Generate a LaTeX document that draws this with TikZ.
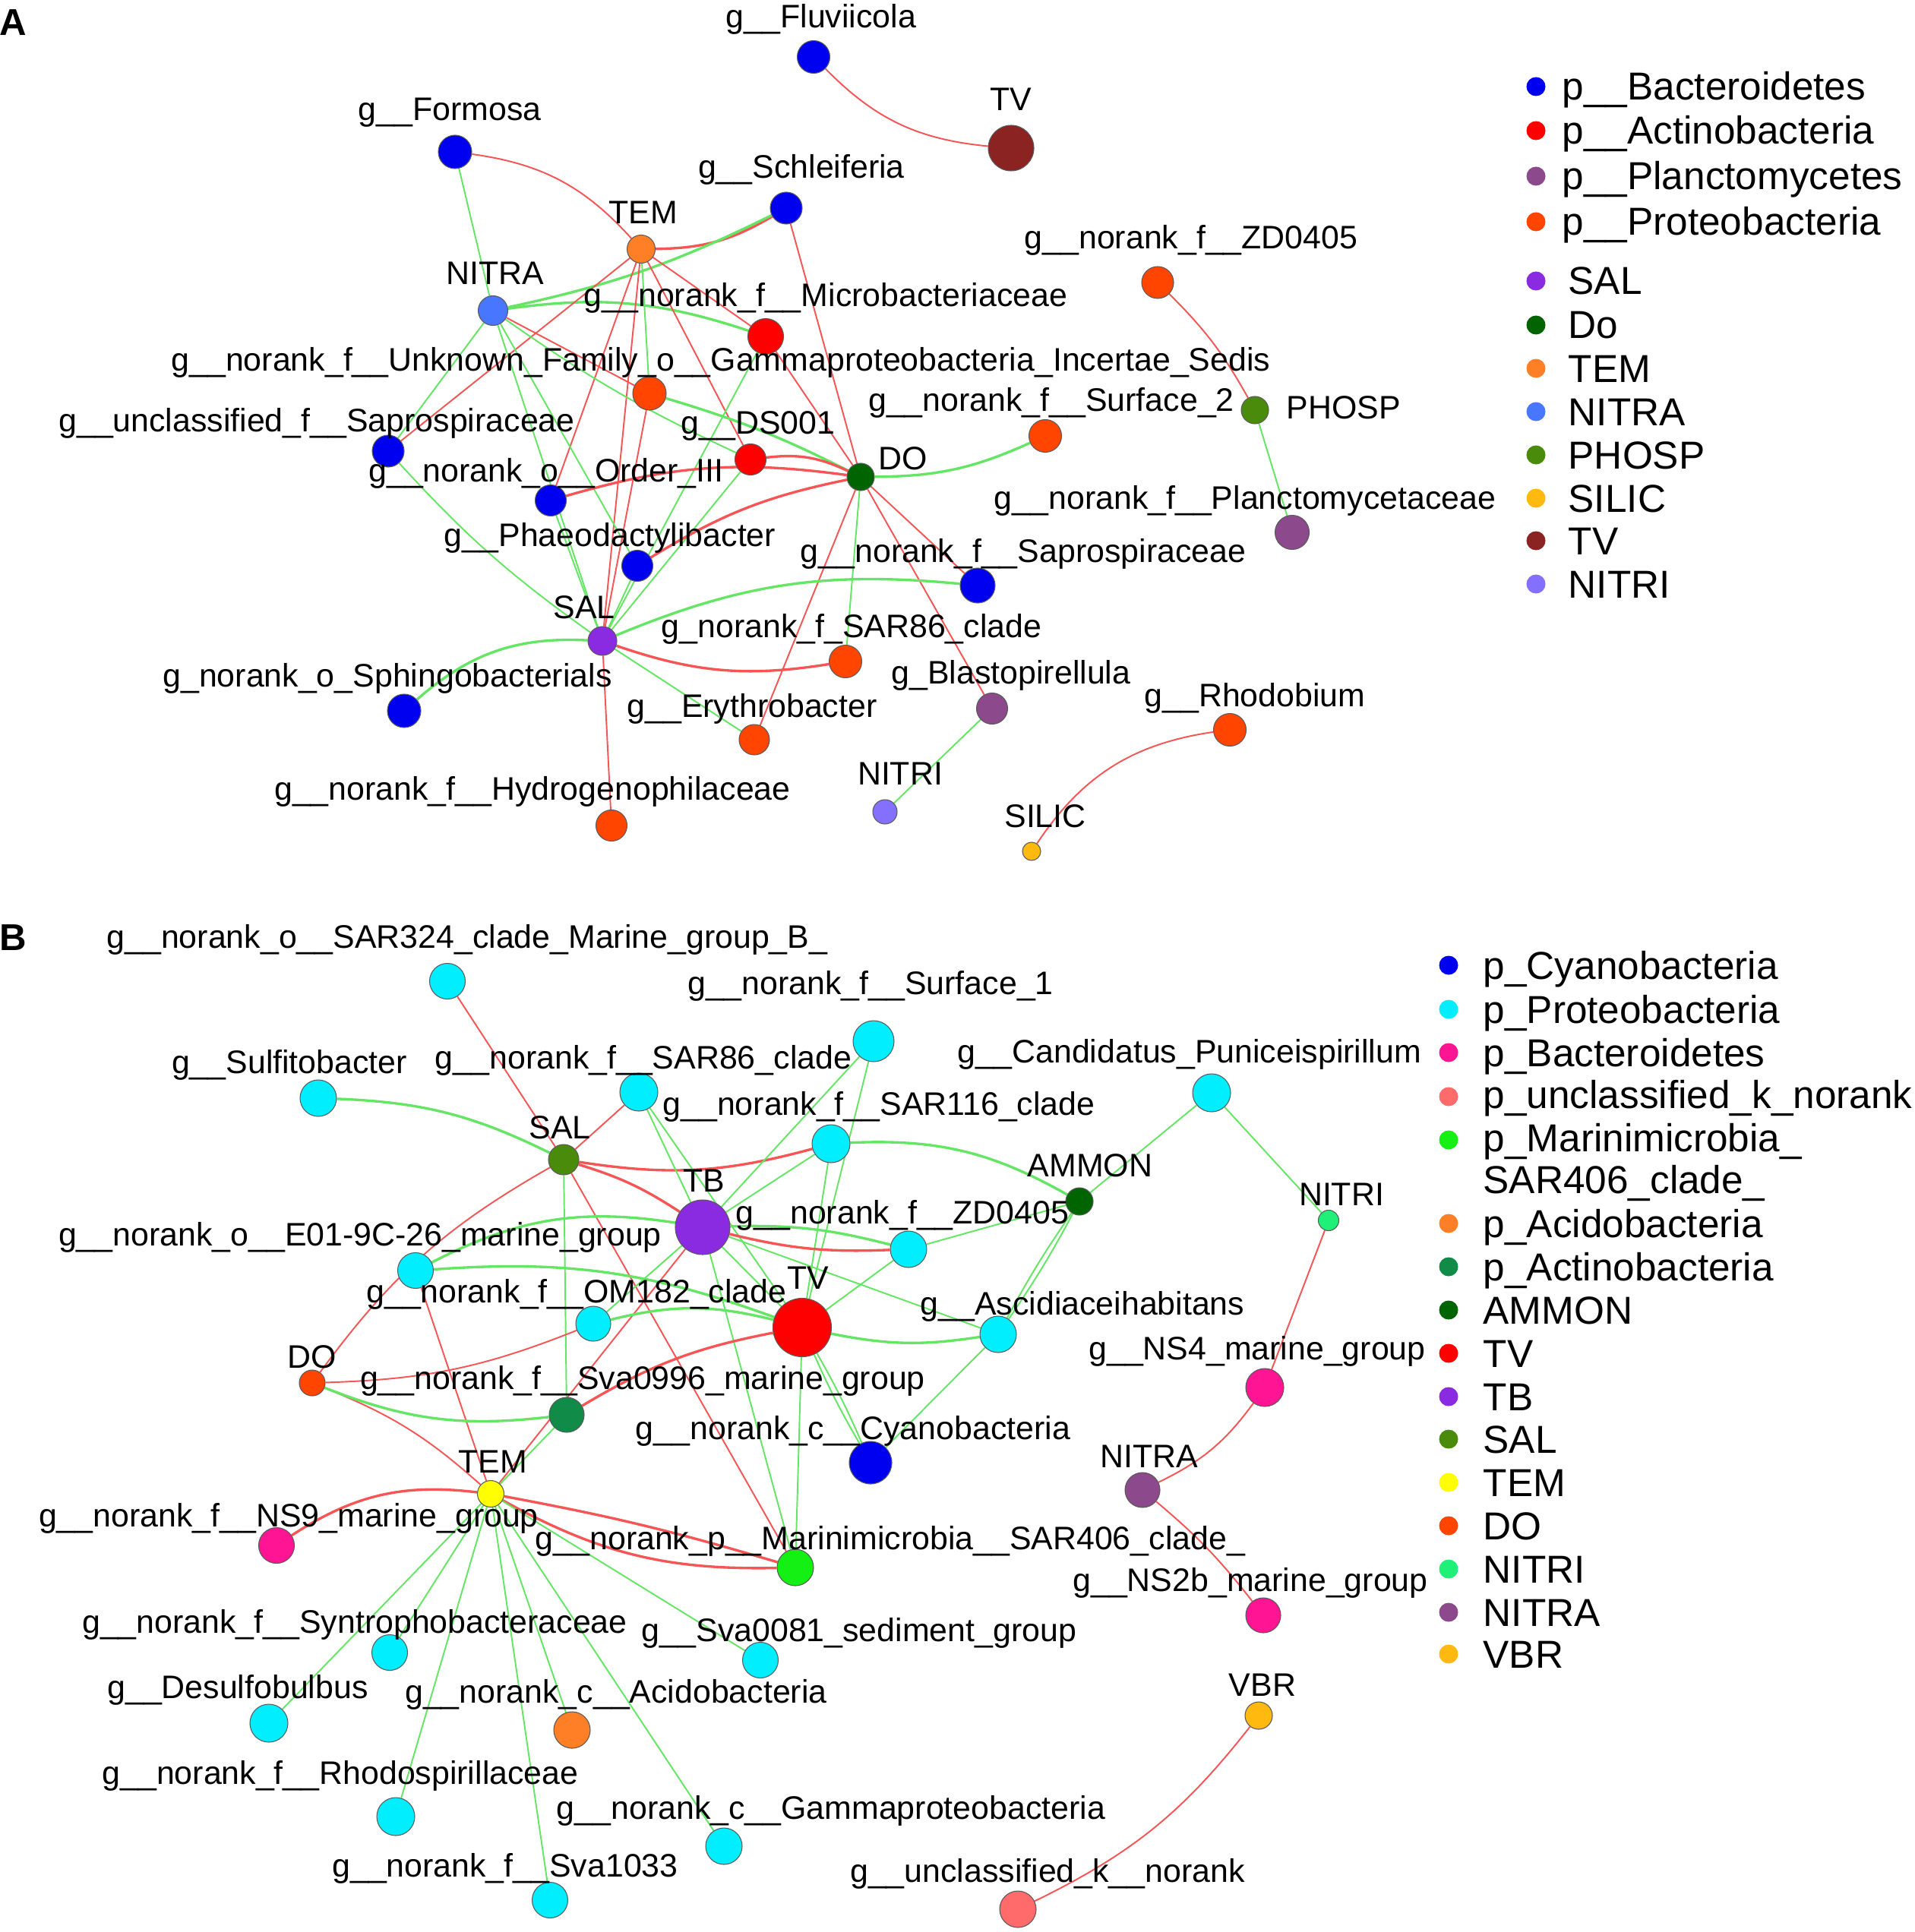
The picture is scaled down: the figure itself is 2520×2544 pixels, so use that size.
\documentclass[tikz,border=0pt]{standalone}
\usepackage{fontspec}
\setmainfont{Liberation Sans}
\usetikzlibrary{backgrounds}

% taxon colours, panel A
\definecolor{bactA}{RGB}{0,0,240}
\definecolor{actinoA}{RGB}{255,0,0}
\definecolor{plancA}{RGB}{140,74,140}
\definecolor{proteoA}{RGB}{255,69,0}
\definecolor{salA}{RGB}{138,43,226}
\definecolor{doA}{RGB}{0,100,0}
\definecolor{temA}{RGB}{255,127,39}
\definecolor{nitraA}{RGB}{72,118,255}
\definecolor{phospA}{RGB}{75,139,11}
\definecolor{silicA}{RGB}{255,185,15}
\definecolor{tvA}{RGB}{139,35,35}
\definecolor{nitriA}{RGB}{132,112,255}
% taxon colours, panel B
\definecolor{cyanoB}{RGB}{0,0,240}
\definecolor{proteoB}{RGB}{0,238,255}
\definecolor{bactB}{RGB}{255,20,147}
\definecolor{unclB}{RGB}{255,106,106}
\definecolor{mariB}{RGB}{20,240,20}
\definecolor{acidoB}{RGB}{255,127,39}
\definecolor{actinoB}{RGB}{16,140,72}
\definecolor{ammonB}{RGB}{0,100,0}
\definecolor{tvB}{RGB}{255,0,0}
\definecolor{tbB}{RGB}{138,43,226}
\definecolor{salB}{RGB}{75,139,11}
\definecolor{temB}{RGB}{255,255,0}
\definecolor{doB}{RGB}{255,69,0}
\definecolor{nitriB}{RGB}{30,240,120}
\definecolor{nitraB}{RGB}{140,74,140}
\definecolor{vbrB}{RGB}{255,185,15}
% correlation links
\definecolor{linkred}{RGB}{245,85,85}
\definecolor{linkgreen}{RGB}{100,230,100}

\tikzset{
  taxon/.style={circle, draw=black!65, line width=0.3pt, inner sep=0pt, minimum size=#1},
  lbl/.style={inner sep=0pt, yshift=-0.5mm, font=\fontsize{12.2}{14}\selectfont, text height=3.1mm, text depth=0.9mm},
  keydot/.style={circle, inner sep=0pt, minimum size=2.5mm},
  keytext/.style={anchor=west, inner sep=0pt, yshift=-0.5mm, font=\fontsize{14.6}{17}\selectfont, text height=3.7mm, text depth=1.1mm},
  redlink/.style={draw=linkred, line width=0.55pt},
  greenlink/.style={draw=linkgreen, line width=0.55pt},
  heavy/.style={line width=0.95pt},
  paneltag/.style={inner sep=0pt, font=\bfseries\fontsize{14}{16}\selectfont}
}

\begin{document}
\begin{tikzpicture}[x=0.1mm, y=-0.1mm]
\useasboundingbox (0,0) rectangle (2520,2544);

% ---------------- panel A ----------------
\node[paneltag] (tagA) at (17,30) {A};

\node[taxon=4.3mm, fill=bactA] (aFluv) at (1071,75) {};
\node[taxon=6mm, fill=tvA] (aTV) at (1331,195) {};
\node[taxon=4.4mm, fill=bactA] (aForm) at (599,200) {};
\node[taxon=4.2mm, fill=bactA] (aSchl) at (1035,274) {};
\node[taxon=3.7mm, fill=temA] (aTEM) at (844,328) {};
\node[taxon=3.9mm, fill=nitraA] (aNITRA) at (649,409) {};
\node[taxon=4.7mm, fill=actinoA] (aMicro) at (1008,443) {};
\node[taxon=4.4mm, fill=proteoA] (aUnkn) at (855,518) {};
\node[taxon=4.2mm, fill=bactA] (aUSap) at (511,594) {};
\node[taxon=4.1mm, fill=bactA] (aOrd) at (725,659) {};
\node[taxon=4.1mm, fill=actinoA] (aDS) at (988,605) {};
\node[taxon=3.6mm, fill=doA] (aDO) at (1133,628) {};
\node[taxon=4.3mm, fill=proteoA] (aSurf) at (1376,574) {};
\node[taxon=4.2mm, fill=proteoA] (aZD) at (1524,372) {};
\node[taxon=3.6mm, fill=phospA] (aPHOSP) at (1652,540) {};
\node[taxon=4.5mm, fill=plancA] (aPlanc) at (1701,701) {};
\node[taxon=4.1mm, fill=bactA] (aPhaeo) at (839,745) {};
\node[taxon=4.6mm, fill=bactA] (aSapro) at (1287,771) {};
\node[taxon=3.8mm, fill=salA] (aSAL) at (793,844) {};
\node[taxon=4.3mm, fill=proteoA] (aSAR86) at (1113,871) {};
\node[taxon=4.4mm, fill=bactA] (aSphi) at (532,936) {};
\node[taxon=4mm, fill=proteoA] (aEryth) at (993,974) {};
\node[taxon=4.1mm, fill=plancA] (aBlast) at (1306,933) {};
\node[taxon=4.3mm, fill=proteoA] (aRhodo) at (1619,961) {};
\node[taxon=4.1mm, fill=proteoA] (aHydro) at (805,1087) {};
\node[taxon=3.2mm, fill=nitriA] (aNITRI) at (1165,1069) {};
\node[taxon=2.4mm, fill=silicA] (aSILIC) at (1358,1121) {};

\node[lbl] (aFluv-l) at (1081,21) {g\_\_Fluviicola};
\node[lbl] (aTV-l) at (1331,130) {TV};
\node[lbl] (aForm-l) at (592,143) {g\_\_Formosa};
\node[lbl] (aSchl-l) at (1055,219) {g\_\_Schleiferia};
\node[lbl] (aTEM-l) at (847,279) {TEM};
\node[lbl] (aZD-l) at (1568,312) {g\_\_norank\_f\_\_ZD0405};
\node[lbl] (aNITRA-l) at (652,359) {NITRA};
\node[lbl] (aMicro-l) at (1087,388) {g\_\_norank\_f\_\_Microbacteriaceae};
\node[lbl] (aUnkn-l) at (949,472) {g\_\_norank\_f\_\_Unknown\_Family\_o\_\_Gammaproteobacteria\_Incertae\_Sedis};
\node[lbl] (aSurf-l) at (1384,526) {g\_\_norank\_f\_\_Surface\_2};
\node[lbl] (aPHOSP-l) at (1769,535) {PHOSP};
\node[lbl] (aUSap-l) at (417,552) {g\_\_unclassified\_f\_\_Saprospiraceae};
\node[lbl] (aDS-l) at (998,555) {g\_\_DS001};
\node[lbl] (aDO-l) at (1189,602) {DO};
\node[lbl] (aOrd-l) at (719,618) {g\_\_norank\_o\_\_Order\_III};
\node[lbl] (aPlanc-l) at (1639,654) {g\_\_norank\_f\_\_Planctomycetaceae};
\node[lbl] (aPhaeo-l) at (803,703) {g\_\_Phaeodactylibacter};
\node[lbl] (aSapro-l) at (1347,724) {g\_\_norank\_f\_\_Saprospiraceae};
\node[lbl] (aSAL-l) at (769,798) {SAL};
\node[lbl] (aSAR86-l) at (1121,823) {g\_norank\_f\_SAR86\_clade};
\node[lbl] (aSphi-l) at (510,888) {g\_norank\_o\_Sphingobacterials};
\node[lbl] (aBlast-l) at (1331,884) {g\_Blastopirellula};
\node[lbl] (aRhodo-l) at (1652,914) {g\_\_Rhodobium};
\node[lbl] (aEryth-l) at (990,928) {g\_\_Erythrobacter};
\node[lbl] (aNITRI-l) at (1185,1017) {NITRI};
\node[lbl] (aHydro-l) at (701,1037) {g\_\_norank\_f\_\_Hydrogenophilaceae};
\node[lbl] (aSILIC-l) at (1376,1073) {SILIC};

\begin{scope}[on background layer]
  \draw[redlink] (aFluv) to[bend right=20] (aTV);
  \draw[redlink] (aForm) to[bend left=20] (aTEM);
  \draw[redlink, heavy] (aTEM) to[bend right=15] (aSchl);
  \draw[greenlink] (aForm) -- (aNITRA);
  \draw[greenlink, heavy] (aSchl) to[bend left=7] (aNITRA);
  \draw[greenlink, heavy] (aNITRA) to[bend left=13] (aMicro);
  \draw[redlink] (aSchl) -- (aDO);
  \draw[redlink] (aTEM) -- (aMicro);
  \draw[redlink] (aTEM) -- (aDS);
  \draw[redlink] (aTEM) -- (aUSap);
  \draw[redlink] (aTEM) -- (aOrd);
  \draw[redlink] (aTEM) -- (aSAL);
  \draw[greenlink] (aTEM) -- (aUnkn);
  \draw[redlink] (aNITRA) -- (aUnkn);
  \draw[greenlink] (aNITRA) -- (aUSap);
  \draw[greenlink] (aNITRA) -- (aSAL);
  \draw[greenlink] (aNITRA) -- (aPhaeo);
  \draw[greenlink] (aNITRA) to[bend right=5] (aDS);
  \draw[redlink] (aUnkn) -- (aSAL);
  \draw[greenlink, heavy] (aUnkn) to[bend left=5] (aDO);
  \draw[redlink] (aMicro) -- (aDO);
  \draw[greenlink] (aMicro) -- (aSAL);
  \draw[redlink, heavy] (aDS) to[bend left=16] (aDO);
  \draw[greenlink] (aDS) -- (aSAL);
  \draw[redlink, heavy] (aOrd) to[bend left=12] (aDO);
  \draw[greenlink] (aOrd) -- (aSAL);
  \draw[redlink, heavy] (aPhaeo) to[bend left=10] (aDO);
  \draw[greenlink] (aPhaeo) -- (aSAL);
  \draw[greenlink] (aUSap) to[bend right=6] (aSAL);
  \draw[greenlink, heavy] (aDO) to[bend right=12] (aSurf);
  \draw[greenlink] (aDO) -- (aSAR86);
  \draw[redlink] (aDO) -- (aEryth);
  \draw[redlink] (aDO) -- (aSapro);
  \draw[redlink] (aDO) -- (aBlast);
  \draw[redlink, heavy] (aSAL) to[bend right=14] (aSAR86);
  \draw[greenlink, heavy] (aSAL) to[bend left=14] (aSapro);
  \draw[greenlink, heavy] (aSAL) to[bend right=22] (aSphi);
  \draw[greenlink] (aSAL) -- (aEryth);
  \draw[redlink] (aSAL) -- (aHydro);
  \draw[redlink] (aZD) to[bend left=8] (aPHOSP);
  \draw[greenlink] (aPHOSP) -- (aPlanc);
  \draw[greenlink] (aBlast) -- (aNITRI);
  \draw[redlink] (aRhodo) to[bend right=24] (aSILIC);
\end{scope}

% legend A
\node[keydot, fill=bactA] (kA1) at (2022,114) {};
\node[keytext] (kA1-t) at (2056,114) {p\_\_Bacteroidetes};
\node[keydot, fill=actinoA] (kA2) at (2022,172) {};
\node[keytext] (kA2-t) at (2056,172) {p\_\_Actinobacteria};
\node[keydot, fill=plancA] (kA3) at (2022,232) {};
\node[keytext] (kA3-t) at (2056,232) {p\_\_Planctomycetes};
\node[keydot, fill=proteoA] (kA4) at (2022,292) {};
\node[keytext] (kA4-t) at (2056,292) {p\_\_Proteobacteria};
\node[keydot, fill=salA] (kA5) at (2022,370) {};
\node[keytext] (kA5-t) at (2064,370) {SAL};
\node[keydot, fill=doA] (kA6) at (2022,428) {};
\node[keytext] (kA6-t) at (2064,428) {Do};
\node[keydot, fill=temA] (kA7) at (2022,485) {};
\node[keytext] (kA7-t) at (2064,485) {TEM};
\node[keydot, fill=nitraA] (kA8) at (2022,542) {};
\node[keytext] (kA8-t) at (2064,542) {NITRA};
\node[keydot, fill=phospA] (kA9) at (2022,599) {};
\node[keytext] (kA9-t) at (2064,599) {PHOSP};
\node[keydot, fill=silicA] (kA10) at (2022,656) {};
\node[keytext] (kA10-t) at (2064,656) {SILIC};
\node[keydot, fill=tvA] (kA11) at (2022,712) {};
\node[keytext] (kA11-t) at (2064,712) {TV};
\node[keydot, fill=nitriA] (kA12) at (2022,769) {};
\node[keytext] (kA12-t) at (2064,769) {NITRI};

% ---------------- panel B ----------------
\node[paneltag] (tagB) at (17,1235) {B};

\node[taxon=4.7mm, fill=proteoB] (bSAR324) at (589,1292) {};
\node[taxon=5.4mm, fill=proteoB] (bSurf1) at (1150,1371) {};
\node[taxon=4.8mm, fill=proteoB] (bSulf) at (419,1446) {};
\node[taxon=5mm, fill=proteoB] (bSAR86) at (841,1438) {};
\node[taxon=5mm, fill=proteoB] (bSAR116) at (1094,1506) {};
\node[taxon=5mm, fill=proteoB] (bCand) at (1595,1439) {};
\node[taxon=4mm, fill=salB] (bSAL) at (742,1527) {};
\node[taxon=7.2mm, fill=tbB] (bTB) at (925,1616) {};
\node[taxon=3.6mm, fill=ammonB] (bAMMON) at (1421,1582) {};
\node[taxon=2.7mm, fill=nitriB] (bNITRI) at (1749,1607) {};
\node[taxon=4.7mm, fill=proteoB] (bE01) at (547,1673) {};
\node[taxon=4.8mm, fill=proteoB] (bZD) at (1196,1645) {};
\node[taxon=4.6mm, fill=proteoB] (bOM) at (781,1743) {};
\node[taxon=7.7mm, fill=tvB] (bTV) at (1056,1748) {};
\node[taxon=4.8mm, fill=proteoB] (bAsc) at (1314,1757) {};
\node[taxon=3.4mm, fill=doB] (bDO) at (411,1821) {};
\node[taxon=4.6mm, fill=actinoB] (bSva96) at (746,1863) {};
\node[taxon=5.6mm, fill=cyanoB] (bCyano) at (1146,1926) {};
\node[taxon=3.5mm, fill=temB] (bTEM) at (646,1967) {};
\node[taxon=4.7mm, fill=bactB] (bNS9) at (364,2035) {};
\node[taxon=4.8mm, fill=mariB] (bMari) at (1047,2064) {};
\node[taxon=4.6mm, fill=nitraB] (bNITRA) at (1504,1962) {};
\node[taxon=5mm, fill=bactB] (bNS4) at (1665,1827) {};
\node[taxon=4.6mm, fill=bactB] (bNS2b) at (1663,2127) {};
\node[taxon=4.7mm, fill=proteoB] (bSyn) at (513,2176) {};
\node[taxon=4.7mm, fill=proteoB] (bSva81) at (1001,2186) {};
\node[taxon=5mm, fill=proteoB] (bDesu) at (354,2269) {};
\node[taxon=4.8mm, fill=acidoB] (bAcido) at (753,2278) {};
\node[taxon=3.6mm, fill=vbrB] (bVBR) at (1657,2259) {};
\node[taxon=5mm, fill=proteoB] (bRhodo) at (521,2392) {};
\node[taxon=4.8mm, fill=proteoB] (bGamma) at (953,2431) {};
\node[taxon=4.7mm, fill=proteoB] (bSva33) at (724,2502) {};
\node[taxon=4.8mm, fill=unclB] (bUncl) at (1340,2514) {};

\node[lbl] (bSAR324-l) at (615,1232) {g\_\_norank\_o\_\_SAR324\_clade\_Marine\_group\_B\_};
\node[lbl] (bSurf1-l) at (1146,1293) {g\_\_norank\_f\_\_Surface\_1};
\node[lbl] (bCand-l) at (1566,1383) {g\_\_Candidatus\_Puniceispirillum};
\node[lbl] (bSulf-l) at (381,1397) {g\_\_Sulfitobacter};
\node[lbl] (bSAR86-l) at (847,1391) {g\_\_norank\_f\_\_SAR86\_clade};
\node[lbl] (bSAR116-l) at (1157,1452) {g\_\_norank\_f\_\_SAR116\_clade};
\node[lbl] (bSAL-l) at (737,1483) {SAL};
\node[lbl] (bAMMON-l) at (1435,1533) {AMMON};
\node[lbl] (bTB-l) at (927,1553) {TB};
\node[lbl] (bNITRI-l) at (1766,1571) {NITRI};
\node[lbl] (bZD-l) at (1188,1595) {g\_\_norank\_f\_\_ZD0405};
\node[lbl] (bE01-l) at (474,1624) {g\_\_norank\_o\_\_E01-9C-26\_marine\_group};
\node[lbl] (bOM-l) at (759,1699) {g\_\_norank\_f\_\_OM182\_clade};
\node[lbl] (bTV-l) at (1064,1681) {TV};
\node[lbl] (bAsc-l) at (1425,1715) {g\_\_Ascidiaceihabitans};
\node[lbl] (bNS4-l) at (1655,1774) {g\_\_NS4\_marine\_group};
\node[lbl] (bDO-l) at (411,1785) {DO};
\node[lbl] (bSva96-l) at (846,1813) {g\_\_norank\_f\_\_Sva0996\_marine\_group};
\node[lbl] (bCyano-l) at (1123,1879) {g\_\_norank\_c\_\_Cyanobacteria};
\node[lbl] (bNITRA-l) at (1513,1916) {NITRA};
\node[lbl] (bTEM-l) at (649,1923) {TEM};
\node[lbl] (bNS9-l) at (380,1994) {g\_\_norank\_f\_\_NS9\_marine\_group};
\node[lbl] (bMari-l) at (1172,2024) {g\_\_norank\_p\_\_Marinimicrobia\_\_SAR406\_clade\_};
\node[lbl] (bNS2b-l) at (1646,2079) {g\_\_NS2b\_marine\_group};
\node[lbl] (bSyn-l) at (467,2134) {g\_\_norank\_f\_\_Syntrophobacteraceae};
\node[lbl] (bSva81-l) at (1131,2145) {g\_\_Sva0081\_sediment\_group};
\node[lbl] (bVBR-l) at (1662,2217) {VBR};
\node[lbl] (bDesu-l) at (313,2220) {g\_\_Desulfobulbus};
\node[lbl] (bAcido-l) at (811,2226) {g\_\_norank\_c\_\_Acidobacteria};
\node[lbl] (bRhodo-l) at (448,2333) {g\_\_norank\_f\_\_Rhodospirillaceae};
\node[lbl] (bGamma-l) at (1094,2379) {g\_\_norank\_c\_\_Gammaproteobacteria};
\node[lbl] (bSva33-l) at (665,2455) {g\_\_norank\_f\_\_Sva1033};
\node[lbl] (bUncl-l) at (1379,2462) {g\_\_unclassified\_k\_\_norank};

\begin{scope}[on background layer]
  \draw[redlink] (bSAR324) -- (bSAL);
  \draw[redlink] (bSAR86) -- (bSAL);
  \draw[greenlink, heavy] (bSulf) to[bend left=12] (bSAL);
  \draw[redlink, heavy] (bSAL) to[bend right=12] (bSAR116);
  \draw[redlink, heavy] (bSAL) to[bend left=8] (bTB);
  \draw[redlink] (bSAL) to[bend right=12] (bDO);
  \draw[redlink] (bSAL) -- (bMari);
  \draw[greenlink] (bSAL) -- (bSva96);
  \draw[greenlink] (bSAR86) -- (bTB);
  \draw[greenlink] (bSAR86) -- (bTV);
  \draw[greenlink] (bSurf1) -- (bTB);
  \draw[greenlink] (bSurf1) -- (bTV);
  \draw[greenlink] (bSAR116) -- (bTB);
  \draw[greenlink] (bSAR116) -- (bTV);
  \draw[greenlink, heavy] (bSAR116) to[bend left=16] (bAMMON);
  \draw[greenlink] (bCand) -- (bAMMON);
  \draw[greenlink] (bCand) -- (bNITRI);
  \draw[greenlink] (bAMMON) -- (bZD);
  \draw[greenlink] (bAMMON) to[bend left=3] (bAsc);
  \draw[greenlink] (bAMMON) to[bend right=3] (bAsc);
  \draw[redlink, heavy] (bTB) to[bend right=8] (bZD);
  \draw[greenlink, heavy] (bTB) to[bend left=8] (bZD);
  \draw[greenlink, heavy] (bTB) to[bend right=18] (bE01);
  \draw[greenlink] (bTB) -- (bOM);
  \draw[greenlink] (bTB) -- (bTV);
  \draw[greenlink] (bTB) -- (bAsc);
  \draw[greenlink] (bTB) -- (bMari);
  \draw[redlink] (bTB) -- (bTEM);
  \draw[greenlink, heavy] (bE01) to[bend left=12] (bTV);
  \draw[redlink] (bE01) -- (bTEM);
  \draw[greenlink, heavy] (bOM) to[bend left=14] (bTV);
  \draw[redlink] (bDO) to[bend right=10] (bOM);
  \draw[redlink] (bDO) to[bend left=10] (bTEM);
  \draw[greenlink, heavy] (bDO) to[bend right=14] (bSva96);
  \draw[redlink, heavy] (bSva96) to[bend left=10] (bTV);
  \draw[greenlink] (bTEM) -- (bSva96);
  \draw[greenlink] (bTV) -- (bZD);
  \draw[greenlink, heavy] (bTV) to[bend right=10] (bAsc);
  \draw[greenlink] (bTV) to[bend left=3] (bCyano);
  \draw[greenlink] (bTV) to[bend right=3] (bCyano);
  \draw[greenlink] (bTV) -- (bMari);
  \draw[greenlink] (bAsc) -- (bCyano);
  \draw[redlink, heavy] (bTEM) to[bend right=20] (bNS9);
  \draw[redlink, heavy] (bTEM) to[bend left=3] (bMari);
  \draw[redlink, heavy] (bTEM) to[bend right=15] (bMari);
  \draw[greenlink] (bTEM) -- (bSyn);
  \draw[greenlink] (bTEM) -- (bDesu);
  \draw[greenlink] (bTEM) -- (bRhodo);
  \draw[greenlink] (bTEM) -- (bSva33);
  \draw[greenlink] (bTEM) -- (bAcido);
  \draw[greenlink] (bTEM) -- (bGamma);
  \draw[greenlink] (bTEM) -- (bSva81);
  \draw[redlink] (bNITRI) -- (bNS4);
  \draw[redlink] (bNITRA) to[bend right=14] (bNS4);
  \draw[redlink] (bNITRA) to[bend left=6] (bNS2b);
  \draw[redlink] (bVBR) to[bend left=13] (bUncl);
\end{scope}

% legend B
\node[keydot, fill=cyanoB] (kB1) at (1907,1271) {};
\node[keytext] (kB1-t) at (1952,1271) {p\_Cyanobacteria};
\node[keydot, fill=proteoB] (kB2) at (1907,1329) {};
\node[keytext] (kB2-t) at (1952,1329) {p\_Proteobacteria};
\node[keydot, fill=bactB] (kB3) at (1907,1386) {};
\node[keytext] (kB3-t) at (1952,1386) {p\_Bacteroidetes};
\node[keydot, fill=unclB] (kB4) at (1907,1444) {};
\node[keytext] (kB4-t) at (1952,1441) {p\_unclassified\_k\_norank};
\node[keydot, fill=mariB] (kB5) at (1907,1501) {};
\node[keytext] (kB5-t) at (1952,1498) {p\_Marinimicrobia\_};
\node[keytext] (kB5-u) at (1952,1553) {SAR406\_clade\_};
\node[keydot, fill=acidoB] (kB6) at (1907,1611) {};
\node[keytext] (kB6-t) at (1952,1611) {p\_Acidobacteria};
\node[keydot, fill=actinoB] (kB7) at (1907,1668) {};
\node[keytext] (kB7-t) at (1952,1668) {p\_Actinobacteria};
\node[keydot, fill=ammonB] (kB8) at (1907,1725) {};
\node[keytext] (kB8-t) at (1952,1725) {AMMON};
\node[keydot, fill=tvB] (kB9) at (1907,1782) {};
\node[keytext] (kB9-t) at (1952,1782) {TV};
\node[keydot, fill=tbB] (kB10) at (1907,1839) {};
\node[keytext] (kB10-t) at (1952,1839) {TB};
\node[keydot, fill=salB] (kB11) at (1907,1895) {};
\node[keytext] (kB11-t) at (1952,1895) {SAL};
\node[keydot, fill=temB] (kB12) at (1907,1952) {};
\node[keytext] (kB12-t) at (1952,1952) {TEM};
\node[keydot, fill=doB] (kB13) at (1907,2009) {};
\node[keytext] (kB13-t) at (1952,2009) {DO};
\node[keydot, fill=nitriB] (kB14) at (1907,2066) {};
\node[keytext] (kB14-t) at (1952,2066) {NITRI};
\node[keydot, fill=nitraB] (kB15) at (1907,2123) {};
\node[keytext] (kB15-t) at (1952,2123) {NITRA};
\node[keydot, fill=vbrB] (kB16) at (1907,2178) {};
\node[keytext] (kB16-t) at (1952,2178) {VBR};
\end{tikzpicture}
\end{document}
